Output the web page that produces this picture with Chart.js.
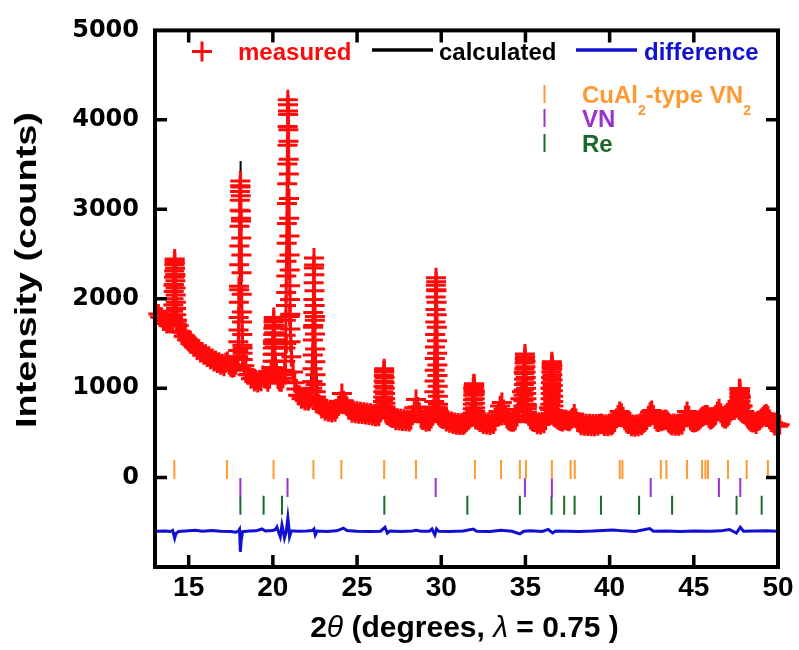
<!DOCTYPE html>
<html>
<head>
<meta charset="utf-8">
<script src="https://cdn.jsdelivr.net/npm/chart.js@4.4.1/dist/chart.umd.min.js"></script>
<style>
  html, body { margin: 0; padding: 0; background: #fff; }
</style>
</head>
<body>
<canvas id="chart" width="799" height="650"></canvas>
<script>
// measured pattern on a 0.1 deg grid, 13.2 .. 50.1 (counts)
const measStart = 13.2;
const measStep = 0.1;
const measured = [
  1830, 1795, 1790, 1752, 1758, 1722, 1730, 1722, 1775, 2150,   // 13.2
  2250, 1760, 1700, 1632, 1625, 1580, 1582, 1542, 1540, 1498,   // 14.2
  1500, 1462, 1465, 1426, 1436, 1398, 1405, 1372, 1380, 1348,   // 15.2
  1356, 1322, 1330, 1298, 1310, 1280, 1290, 1262, 1272, 1246,   // 16.2
  1285, 1298, 1262, 1238, 1228, 1236, 1262, 1350, 2100, 2900,   // 17.2
  1450, 1250, 1200, 1150, 1152, 1105, 1112, 1075, 1095, 1062,   // 18.2
  1090, 1078, 1140, 1110, 1105, 1070, 1105, 1180, 1500, 1500,   // 19.2
  1180, 1100, 1075, 1070, 1110, 1200, 1500, 4100, 1800, 1350,   // 20.2
  1180, 1060, 990, 920, 918, 880, 895, 862, 880, 858,           // 21.2
  885, 960, 1700, 1800, 870, 822, 810, 772, 782, 748,           // 22.2
  768, 735, 758, 728, 755, 735, 770, 800, 850, 940,             // 23.2
  860, 820, 798, 762, 756, 726, 748, 718, 742, 714,             // 24.2
  736, 710, 730, 706, 725, 700, 718, 692, 710, 684,             // 25.2
  700, 685, 730, 780, 1190, 760, 700, 688, 675, 665,            // 26.2
  672, 642, 664, 638, 659, 633, 654, 629, 650, 628,             // 27.2
  650, 700, 780, 873, 790, 730, 660, 645, 650, 624,             // 28.2
  645, 630, 660, 690, 780, 2100, 780, 680, 665, 655,            // 29.2
  660, 628, 640, 612, 626, 599, 616, 591, 610, 588,             // 30.2
  608, 588, 605, 625, 640, 660, 700, 1000, 960, 680,            // 31.2
  640, 622, 626, 598, 618, 593, 615, 589, 614, 598,             // 32.2
  630, 680, 740, 800, 840, 760, 700, 660, 640, 630,             // 33.2
  624, 626, 640, 680, 760, 880, 960, 1180, 1300, 800,           // 34.2
  690, 650, 632, 620, 625, 596, 618, 593, 620, 606,             // 35.2
  640, 700, 780, 1000, 1250, 720, 668, 652, 640, 632,           // 36.2
  628, 640, 650, 635, 630, 650, 670, 710, 660, 620,             // 37.2
  614, 584, 604, 578, 603, 576, 601, 574, 599, 573,             // 38.2
  600, 580, 600, 605, 595, 576, 597, 575, 600, 581,             // 39.2
  600, 620, 660, 700, 740, 720, 680, 640, 612, 598,             // 40.2
  602, 574, 594, 568, 593, 573, 604, 586, 606, 620,             // 41.2
  645, 690, 730, 750, 700, 655, 628, 622, 640, 630,             // 42.2
  640, 650, 640, 615, 600, 583, 604, 578, 601, 580,             // 43.2
  608, 590, 630, 690, 740, 690, 640, 622, 615, 620,             // 44.2
  630, 642, 660, 680, 690, 700, 700, 670, 650, 660,             // 45.2
  680, 700, 740, 770, 720, 682, 662, 660, 680, 700,             // 46.2
  740, 780, 800, 820, 850, 990, 900, 800, 740, 690,             // 47.2
  660, 640, 625, 616, 622, 600, 632, 640, 660, 680,             // 48.2
  700, 710, 690, 650, 620, 612, 582, 602, 574, 590              // 49.2
];

// strong reflections, measured at 0.01 deg steps from each start angle
const peakStep = 0.01;
const peakStarts = [14.06, 17.93, 19.96, 20.73, 22.34, 26.52, 29.57, 31.85, 34.87, 36.47, 47.68];
const peakCounts = [
  [1740, 1790, 1860, 1930, 2000, 2080, 2160, 2240, 2310, 2380, 2420, 2444, 2400, 2340, 2270, 2200, 2120, 2040, 1960, 1890, 1820, 1760, 1720],
  [1350, 1420, 1520, 1650, 1790, 1960, 2140, 2380, 2590, 2810, 2990, 3100, 3200, 3262, 3317, 3250, 3150, 2980, 2870, 2680, 2490, 2290, 2050, 1850, 1740, 1600, 1480, 1390, 1320],
  [1150, 1230, 1300, 1380, 1450, 1530, 1600, 1670, 1740, 1790, 1760, 1700, 1620, 1540, 1460, 1380, 1300, 1220, 1150],
  [1150, 1300, 1450, 1590, 1760, 1925, 2070, 2255, 2420, 2620, 2840, 3065, 3285, 3505, 3715, 3925, 4225, 4170, 4060, 3890, 3760, 3560, 3395, 3120, 2900, 2700, 2490, 2320, 2145, 1990, 1825, 1660, 1520],
  [1000, 1073, 1216, 1371, 1537, 1681, 1847, 1990, 2178, 2344, 2455, 2377, 2267, 2090, 1924, 1758, 1604, 1438, 1294, 1150, 1040, 960, 900, 860, 830],
  [760, 800, 850, 900, 960, 1020, 1080, 1140, 1190, 1217, 1180, 1120, 1060, 1000, 940, 880, 830, 790, 760, 735, 715],
  [760, 850, 960, 1080, 1200, 1330, 1460, 1600, 1740, 1880, 2020, 2150, 2234, 2190, 2090, 1960, 1820, 1680, 1530, 1390, 1260, 1140, 1020, 910, 820, 750, 700],
  [680, 720, 770, 820, 870, 920, 960, 1000, 1030, 1050, 1040, 1010, 970, 930, 880, 830, 780, 740, 700, 670, 650],
  [800, 860, 920, 980, 1040, 1100, 1160, 1220, 1280, 1330, 1382, 1350, 1300, 1240, 1180, 1120, 1060, 1000, 940, 880, 820, 770, 730],
  [760, 820, 880, 940, 1000, 1060, 1120, 1180, 1230, 1270, 1294, 1260, 1210, 1150, 1090, 1030, 970, 910, 850, 800, 750, 710, 680],
  [820, 860, 900, 940, 975, 995, 970, 930, 890, 850, 810, 780]
];

// calculated profile [2theta, counts]
const calculated = [
  [13.2, 1815], [13.8, 1725], [14.05, 1740], [14.12, 2100], [14.17, 2450], [14.22, 2100], [14.3, 1750],
  [14.5, 1645], [15.0, 1530], [15.5, 1440], [16.0, 1368], [16.5, 1310], [17.0, 1260], [17.28, 1290],
  [17.5, 1238], [17.9, 1300], [18.0, 1900], [18.04, 2700], [18.07, 3540], [18.1, 2700], [18.14, 1900],
  [18.3, 1260], [18.6, 1140], [19.0, 1082], [19.45, 1120], [19.8, 1095], [19.98, 1400], [20.05, 1800],
  [20.12, 1400], [20.4, 1080], [20.7, 1200], [20.8, 1900], [20.85, 3200], [20.89, 4250], [20.93, 3200],
  [21.0, 2000], [21.2, 1180], [21.6, 905], [22.2, 885], [22.36, 1500], [22.44, 2450], [22.52, 1500],
  [22.7, 822], [23.5, 742], [24.0, 850], [24.07, 945], [24.2, 860], [24.6, 746], [25.5, 718], [26.3, 695],
  [26.52, 900], [26.61, 1210], [26.7, 900], [26.9, 688], [27.5, 650], [28.2, 650], [28.5, 870], [28.8, 660],
  [29.4, 660], [29.57, 900], [29.69, 2230], [29.8, 900], [30.0, 665], [31.0, 600], [31.7, 660], [31.94, 1040],
  [32.1, 680], [32.8, 603], [33.55, 840], [34.0, 640], [34.67, 880], [34.97, 1370], [35.1, 800], [35.5, 620],
  [36.3, 700], [36.57, 1290], [36.7, 720], [37.3, 640], [37.93, 710], [38.3, 596], [39.5, 600], [40.0, 588],
  [40.6, 740], [41.0, 612], [41.5, 580], [42.44, 750], [42.8, 628], [43.37, 650], [43.8, 592], [44.6, 740],
  [45.0, 615], [45.77, 700], [46.0, 650], [46.48, 770], [46.8, 662], [47.3, 780], [47.73, 990], [48.0, 740],
  [48.5, 616], [49.34, 710], [49.8, 594], [50.1, 582]
];

// difference curve (offset to about -600)
const difference = [
  [13.05, -600], [13.6, -598], [13.9, -603], [14.05, -590], [14.12, -640], [14.17, -678], [14.25, -625],
  [14.4, -602], [14.8, -598], [15.4, -590], [15.8, -600], [16.4, -592], [16.9, -600], [17.5, -602],
  [17.8, -610], [17.95, -598], [18.02, -578], [18.07, -830], [18.12, -700], [18.2, -605], [18.6, -598],
  [19.0, -596], [19.35, -575], [19.55, -598], [20.0, -592], [20.15, -580], [20.24, -553], [20.34, -610],
  [20.44, -663], [20.54, -530], [20.62, -600], [20.69, -675], [20.8, -600], [20.89, -452], [20.95, -560],
  [20.99, -660], [21.1, -595], [21.5, -600], [22.0, -598], [22.35, -592], [22.44, -575], [22.52, -640],
  [22.62, -598], [23.2, -602], [23.8, -596], [24.19, -565], [24.4, -592], [25.0, -600], [25.8, -602],
  [26.4, -600], [26.66, -555], [26.8, -620], [26.95, -598], [27.6, -602], [28.3, -598], [28.5, -590],
  [28.8, -600], [29.3, -600], [29.45, -575], [29.62, -640], [29.72, -575], [29.85, -600], [30.5, -602],
  [31.3, -598], [31.9, -575], [32.1, -600], [32.9, -603], [33.55, -590], [34.2, -600], [34.67, -630],
  [34.9, -600], [35.3, -596], [36.0, -602], [36.35, -580], [36.61, -620], [36.8, -598], [37.5, -600],
  [38.2, -603], [39.0, -598], [40.2, -585], [40.8, -596], [41.5, -602], [42.38, -570], [42.6, -600],
  [43.4, -598], [44.2, -602], [45.0, -598], [46.0, -600], [46.6, -596], [47.12, -580], [47.3, -598],
  [47.53, -620], [47.76, -555], [47.95, -600], [48.6, -598], [49.3, -596], [50.1, -600]
];

// reflection positions (2theta) and the level each row of marks sits at
const cuAl2Ticks = [14.15, 17.28, 20.04, 22.41, 24.07, 26.61, 28.50, 32.00, 33.55, 34.67, 35.03, 36.57, 37.68,
  37.93, 40.60, 40.76, 43.04, 43.37, 44.60, 45.49, 45.69, 45.84, 47.03, 48.14, 49.40];
const vnTicks = [18.07, 20.87, 29.67, 34.97, 36.57, 42.44, 46.49, 47.76];
const reTicks = [18.07, 19.45, 20.54, 26.62, 31.55, 34.67, 36.55, 37.30, 37.92, 39.49, 41.75, 43.71, 47.54, 49.03];
const tickRows = [90, -110, -310];

// axis tick values
const xTickValues = [15, 20, 25, 30, 35, 40, 45, 50];
const yTickValues = [-1000, 0, 1000, 2000, 3000, 4000, 5000];

const RED = '#ff0a0a';
const BLUE = '#1010d2';
const ORANGE = '#ff9933';
const PURPLE = '#9933cc';
const GREEN = '#1a6b2a';
const SANS = "'Liberation Sans', Arial, sans-serif";

const measuredPoints = measured.map((c, i) => ({ x: +(measStart + i * measStep).toFixed(2), y: c }));
peakStarts.forEach((s, k) => {
  peakCounts[k].forEach((c, i) => measuredPoints.push({ x: +(s + i * peakStep).toFixed(2), y: c }));
});

const toXY = arr => arr.map(p => ({ x: p[0], y: p[1] }));
const tickSet = (arr, level) => arr.map(v => ({ x: v, y: level }));

function tickDataset(arr, level, color) {
  return {
    data: tickSet(arr, level),
    pointStyle: 'line',
    pointRotation: 90,
    pointRadius: 9.5,
    pointBorderWidth: 2,
    pointBorderColor: color,
    pointBackgroundColor: color,
    showLine: false
  };
}

// box round the plot with inward ticks on all four sides
const frame = {
  id: 'frame',
  afterDatasetsDraw(chart) {
    const { ctx, chartArea: a, scales: { x, y } } = chart;
    ctx.save();
    ctx.strokeStyle = '#000';
    ctx.lineWidth = 3.5;
    ctx.beginPath();
    x.ticks.forEach(t => {
      const px = x.getPixelForValue(t.value);
      if (px <= a.left + 2 || px >= a.right - 2) return;
      ctx.moveTo(px, a.bottom); ctx.lineTo(px, a.bottom - 12);
      ctx.moveTo(px, a.top); ctx.lineTo(px, a.top + 12);
    });
    y.ticks.forEach(t => {
      const py = y.getPixelForValue(t.value);
      if (py <= a.top + 2 || py >= a.bottom - 2) return;
      ctx.moveTo(a.left, py); ctx.lineTo(a.left + 12, py);
      ctx.moveTo(a.right, py); ctx.lineTo(a.right - 12, py);
    });
    ctx.stroke();
    ctx.lineWidth = 4;
    ctx.strokeRect(a.left, a.top, a.right - a.left, a.bottom - a.top);
    ctx.restore();
  }
};

// axis titles and the two legends
const labels = {
  id: 'labels',
  afterDraw(chart) {
    const c = chart.ctx;
    const a = chart.chartArea;
    c.save();
    c.textBaseline = 'alphabetic';
    c.fillStyle = '#000';

    // x title with italic greek letters
    const parts = [
      ['2', 'bold 30px ' + SANS],
      ['\u03b8', 'italic 30px ' + SANS],
      [' (degrees, ', 'bold 30px ' + SANS],
      ['\u03bb', 'italic 30px ' + SANS],
      [' = 0.75 )', 'bold 30px ' + SANS]
    ];
    let total = 0;
    parts.forEach(p => { c.font = p[1]; total += c.measureText(p[0]).width; });
    let tx = (a.left + a.right) / 2 - total / 2 - 2;
    parts.forEach(p => {
      c.font = p[1];
      c.fillText(p[0], tx, 637);
      tx += c.measureText(p[0]).width;
    });

    // y title, stretched along its length like the original
    c.save();
    c.font = 'bold 30px ' + SANS;
    const yt = 'Intensity (counts)';
    const w = c.measureText(yt).width;
    c.translate(36, 270);
    c.rotate(-Math.PI / 2);
    c.scale(316 / w, 1);
    c.textAlign = 'center';
    c.fillText(yt, 0, 0);
    c.restore();

    // series legend
    c.font = 'bold 24px ' + SANS;
    c.lineWidth = 3;
    c.strokeStyle = RED;
    c.beginPath();
    c.moveTo(192, 51.5); c.lineTo(212, 51.5);
    c.moveTo(202, 41.5); c.lineTo(202, 61.5);
    c.stroke();
    c.fillStyle = RED;
    c.fillText('measured', 238, 60);

    c.lineWidth = 3.5;
    c.strokeStyle = '#000';
    c.beginPath(); c.moveTo(372, 50); c.lineTo(433, 50); c.stroke();
    c.fillStyle = '#000';
    c.fillText('calculated', 439, 60);

    c.strokeStyle = BLUE;
    c.beginPath(); c.moveTo(576, 50); c.lineTo(637, 50); c.stroke();
    c.fillStyle = BLUE;
    c.fillText('difference', 644, 60);

    // phase legend
    const phases = [
      [ORANGE, 103, [['CuAl', 0], ['2', 1], ['-type VN', 0], ['2', 1]]],
      [PURPLE, 127, [['VN', 0]]],
      [GREEN, 152, [['Re', 0]]]
    ];
    phases.forEach(([col, base, bits]) => {
      c.strokeStyle = col;
      c.lineWidth = 2;
      c.beginPath(); c.moveTo(544.5, base - 18); c.lineTo(544.5, base); c.stroke();
      c.fillStyle = col;
      let px = 582;
      bits.forEach(([s, sub]) => {
        c.font = sub ? 'bold 14px ' + SANS : 'bold 24px ' + SANS;
        c.fillText(s, px, sub ? base + 12 : base);
        px += c.measureText(s).width;
      });
    });
    c.restore();
  }
};

const ctx = document.getElementById('chart').getContext('2d');

const chart = new Chart(ctx, {
  type: 'scatter',
  data: {
    datasets: [
      {
        label: 'difference',
        data: toXY(difference),
        showLine: true,
        borderColor: BLUE,
        borderWidth: 3,
        pointRadius: 0,
        tension: 0
      },
      tickDataset(cuAl2Ticks, tickRows[0], ORANGE),
      tickDataset(vnTicks, tickRows[1], PURPLE),
      tickDataset(reTicks, tickRows[2], GREEN),
      {
        label: 'measured',
        data: measuredPoints,
        showLine: false,
        pointStyle: 'cross',
        pointRadius: 10,
        pointBorderWidth: 3,
        pointBorderColor: RED,
        pointBackgroundColor: RED,
        clip: false
      },
      {
        label: 'calculated',
        data: toXY(calculated),
        showLine: true,
        borderColor: '#000',
        borderWidth: 1.5,
        pointRadius: 0,
        tension: 0
      }
    ]
  },
  options: {
    responsive: false,
    animation: false,
    events: [],
    layout: { padding: { top: 26, right: 21, left: 0, bottom: 0 } },
    plugins: {
      legend: { display: false },
      tooltip: { enabled: false }
    },
    scales: {
      x: {
        type: 'linear',
        min: 13,
        max: 50,
        grid: { display: false, drawTicks: false },
        border: { display: false },
        ticks: {
          maxRotation: 0,
          autoSkip: false,
          padding: 4,
          color: '#000',
          font: { family: SANS, size: 28, weight: 'bold' }
        },
        afterBuildTicks: s => { s.ticks = xTickValues.map(v => ({ value: v })); },
        afterFit: s => { s.height = 83; }
      },
      y: {
        type: 'linear',
        min: -1000,
        max: 5000,
        grid: { display: false, drawTicks: false },
        border: { display: false },
        ticks: {
          autoSkip: false,
          padding: 16,
          color: '#000',
          font: { family: "'DejaVu Sans', sans-serif", size: 24, weight: 'bold' },
          callback: v => (v < 0 ? '' : String(v))
        },
        afterBuildTicks: s => { s.ticks = yTickValues.map(v => ({ value: v })); },
        afterFit: s => { s.width = 155; }
      }
    }
  },
  plugins: [frame, labels]
});
</script>
</body>
</html>
